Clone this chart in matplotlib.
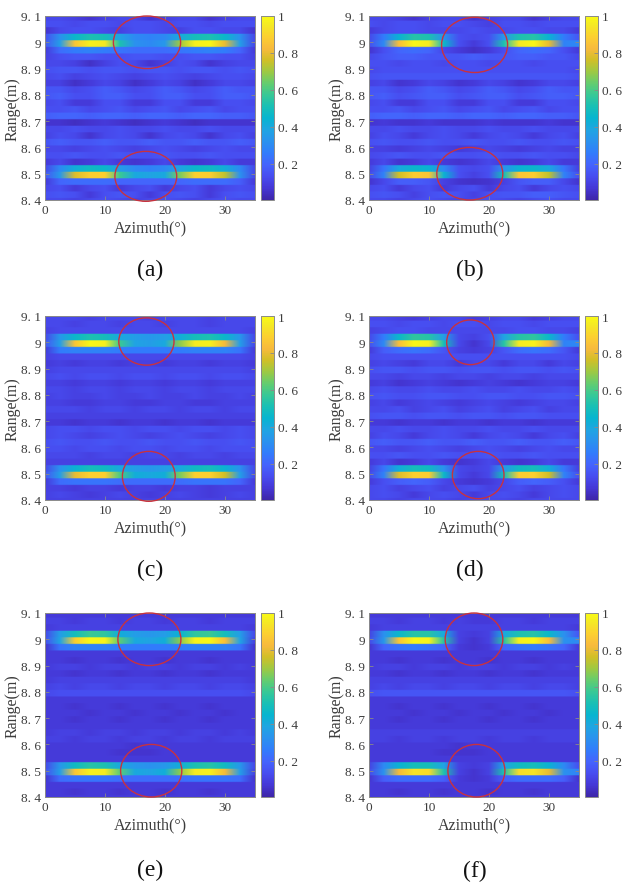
import numpy as np
import matplotlib
matplotlib.use("Agg")
import matplotlib.pyplot as plt
from matplotlib.colors import LinearSegmentedColormap
from matplotlib.patches import Ellipse

plt.rcParams['font.family'] = ['Liberation Serif', 'DejaVu Serif']

# ---------------- data ----------------
azimuth_deg = [0, 2.5, 5, 7.5, 10, 12.5, 15, 17.5, 20, 22.5, 25, 27.5, 30, 32.5, 35]
# range-bin centres, top to bottom (m)
range_m = [9.095, 9.070, 9.045, 9.020, 8.995, 8.970, 8.945, 8.920, 8.895, 8.870,
           8.845, 8.820, 8.795, 8.770, 8.745, 8.720, 8.695, 8.670, 8.645, 8.620,
           8.595, 8.570, 8.545, 8.520, 8.495, 8.470, 8.445, 8.420, 8.395]
range_bin = 0.025
azimuth_step = 2.5

# normalised amplitude (percent), one string per range bin (top -> bottom)
img_a = [
    "12 12 10 06 10 12 12 06 10 12 12 06 10 12 12",
    "14 14 12 14 14 12 14 14 12 14 14 12 14 14 14",
    "06 12 14 14 12 10 14 14 12 10 14 14 12 12 06",
    "14 32 46 52 50 38 30 28 30 40 50 52 46 32 12",
    "16 36 86 97 95 52 32 30 34 70 97 99 80 36 12",
    "08 22 26 28 26 24 22 22 22 24 26 28 26 20 08",
    "10 14 16 16 14 14 16 16 14 14 16 16 14 14 10",
    "12 12 10 05 10 14 12 06 10 14 12 06 10 12 12",
    "14 16 16 14 16 16 14 16 16 14 16 16 14 16 14",
    "12 14 10 12 14 12 10 12 14 12 10 12 14 14 12",
    "10 10 05 08 12 10 05 08 12 10 05 08 12 12 10",
    "16 16 12 14 18 16 12 14 18 16 12 14 18 16 16",
    "16 18 14 14 18 18 14 14 18 18 14 14 18 18 16",
    "12 14 08 08 14 14 08 08 14 14 08 08 14 14 12",
    "14 14 16 12 14 16 12 14 16 12 14 16 12 14 14",
    "18 20 20 18 20 20 18 20 20 18 20 20 18 18 16",
    "06 06 04 06 08 06 04 06 08 06 04 06 06 06 06",
    "12 12 14 12 12 14 12 12 14 12 12 14 12 12 12",
    "10 14 12 06 12 14 12 06 12 14 12 06 12 14 10",
    "16 18 16 16 18 16 16 18 16 16 18 16 16 18 16",
    "12 12 10 12 14 12 10 12 14 12 10 12 14 12 12",
    "14 14 16 14 14 16 14 14 16 14 14 16 14 14 14",
    "08 12 06 08 12 08 06 08 12 08 06 08 12 08 08",
    "12 30 42 48 46 36 30 28 30 38 46 48 42 30 12",
    "16 34 78 88 89 58 40 38 40 66 89 88 74 32 12",
    "08 20 22 22 22 20 20 20 20 20 22 22 22 18 08",
    "12 14 08 12 14 08 12 14 08 12 14 08 12 14 12",
    "14 16 14 08 14 16 14 08 14 16 14 08 14 16 14",
    "12 12 10 12 14 12 10 12 14 12 10 12 14 12 12",
]
img_b = [
    "12 12 10 06 10 12 12 06 10 12 12 06 10 12 12",
    "14 12 14 14 12 14 14 12 10 14 14 12 14 14 14",
    "08 12 14 14 12 12 12 14 12 12 14 14 12 12 08",
    "12 26 44 54 52 32 14 12 14 34 52 54 44 26 16",
    "14 30 84 99 96 46 14 08 14 52 95 99 80 28 30",
    "06 14 20 22 20 12 08 05 08 14 20 22 20 14 08",
    "12 16 18 18 16 16 16 18 16 16 18 18 16 16 12",
    "14 14 12 14 14 12 14 14 12 14 14 12 14 14 14",
    "12 14 14 14 14 14 14 14 14 14 14 14 14 14 12",
    "14 16 16 16 16 16 16 16 16 16 16 16 16 16 14",
    "10 12 06 08 12 10 06 08 12 10 06 08 12 12 10",
    "16 16 12 14 18 16 12 14 18 16 12 14 18 16 16",
    "16 18 14 16 18 18 14 16 18 18 14 16 18 18 16",
    "12 14 08 08 14 14 08 08 14 14 08 08 14 14 12",
    "14 14 16 12 14 16 12 14 16 12 14 16 12 14 14",
    "18 20 20 18 20 20 18 20 20 18 20 20 18 18 16",
    "06 08 06 06 08 06 06 06 08 06 06 06 08 06 06",
    "12 12 14 12 12 14 12 12 14 12 12 14 12 12 12",
    "10 14 12 08 12 14 12 08 12 14 12 08 12 14 10",
    "14 16 14 14 16 14 14 16 14 14 16 14 14 16 14",
    "10 10 08 10 12 10 08 10 12 10 08 10 12 10 10",
    "12 14 16 14 14 16 14 14 16 14 14 16 14 14 12",
    "08 12 06 08 12 08 06 08 12 08 06 08 12 08 08",
    "10 24 40 46 44 30 14 12 14 32 44 46 40 24 10",
    "12 28 76 88 86 44 14 10 14 50 86 88 74 28 14",
    "06 12 18 18 16 10 06 05 06 10 16 18 18 12 06",
    "12 14 08 12 14 08 12 14 08 12 14 08 12 14 12",
    "14 16 14 10 14 16 14 10 14 16 16 18 18 16 14",
    "12 12 10 12 14 12 10 12 14 12 10 12 14 12 12",
]
img_c = [
    "12 12 12 10 12 12 12 10 12 12 12 10 12 12 12",
    "12 12 10 12 12 10 12 12 10 12 12 10 12 12 12",
    "10 12 12 12 12 12 12 12 12 12 12 12 12 12 10",
    "12 34 46 52 50 40 36 34 36 42 50 52 46 34 12",
    "16 36 86 99 97 58 38 36 40 68 96 97 82 36 12",
    "08 26 28 28 28 26 26 26 26 26 28 28 28 24 08",
    "10 12 12 12 12 12 12 12 12 12 12 12 12 12 10",
    "08 10 08 10 10 08 10 10 08 10 10 08 10 10 08",
    "10 12 12 12 12 12 12 12 12 12 12 12 12 12 10",
    "12 14 12 14 14 12 14 14 12 14 14 12 14 14 12",
    "10 10 08 10 10 08 10 10 08 10 10 08 10 10 10",
    "12 12 10 12 12 10 12 12 10 12 12 10 12 12 12",
    "10 12 10 10 12 10 10 12 10 10 12 10 10 12 10",
    "10 10 08 08 10 10 08 08 10 10 08 08 10 10 10",
    "12 12 12 10 12 12 10 12 12 10 12 12 10 12 12",
    "10 10 10 10 10 10 10 10 10 10 10 10 10 10 10",
    "08 08 06 08 08 06 08 08 06 08 08 06 08 08 08",
    "12 14 14 12 14 14 12 14 14 12 14 14 12 14 12",
    "12 14 12 10 12 14 12 10 12 14 12 10 12 14 12",
    "14 16 14 14 16 14 14 16 14 14 16 14 14 16 14",
    "14 14 12 14 14 12 14 14 12 14 14 12 14 14 14",
    "12 12 12 10 12 12 10 12 12 10 12 12 10 12 12",
    "10 10 10 10 10 10 10 10 10 10 10 10 10 10 10",
    "12 32 44 50 48 40 36 34 36 40 48 50 44 32 12",
    "16 36 80 89 89 60 42 40 42 66 89 89 76 36 12",
    "08 22 24 24 24 22 22 22 22 22 24 24 24 20 08",
    "10 10 08 10 10 08 10 10 08 10 10 08 10 10 10",
    "10 12 10 08 10 12 10 08 10 12 10 08 10 12 10",
    "10 10 10 10 10 10 10 10 10 10 10 10 10 10 10",
]
img_d = [
    "12 12 10 08 10 12 12 08 10 12 12 08 10 12 12",
    "14 14 12 14 14 12 14 14 12 14 14 12 14 14 14",
    "10 12 14 14 12 12 12 12 12 12 14 14 12 12 10",
    "12 26 46 56 54 36 12 10 14 38 54 56 46 26 14",
    "14 30 84 99 97 50 12 06 12 54 96 98 82 28 30",
    "08 18 22 24 22 16 10 08 10 16 22 24 22 16 08",
    "12 14 14 14 14 14 14 14 14 14 14 14 14 14 12",
    "10 12 10 08 12 12 08 12 12 08 12 12 08 12 10",
    "14 16 16 14 16 16 14 16 16 14 16 16 14 16 14",
    "12 12 10 12 12 10 12 12 10 12 12 10 12 12 12",
    "08 10 06 08 10 08 06 08 10 08 06 08 10 10 08",
    "12 14 12 12 14 12 12 14 12 12 14 12 12 14 12",
    "14 16 14 14 16 16 14 14 16 16 14 14 16 16 14",
    "10 12 08 10 12 10 08 10 12 10 08 10 12 12 10",
    "12 12 14 10 12 14 10 12 14 10 12 14 10 12 12",
    "14 16 16 14 16 16 14 16 16 14 16 16 14 14 14",
    "08 08 06 08 08 06 08 08 06 08 08 06 08 08 08",
    "12 12 14 12 12 14 12 12 14 12 12 14 12 12 12",
    "10 14 12 08 12 14 12 08 12 14 12 08 12 14 10",
    "16 18 16 16 18 16 16 18 16 16 18 16 16 18 16",
    "12 12 10 12 14 12 10 12 14 12 10 12 14 12 12",
    "14 14 16 14 14 16 14 14 16 14 14 16 14 14 14",
    "08 12 06 08 12 08 06 08 12 08 06 08 12 08 08",
    "10 24 42 50 48 32 12 10 12 34 48 50 42 24 10",
    "12 28 78 89 88 46 12 08 12 50 88 89 76 28 14",
    "08 14 18 20 18 12 08 06 08 12 18 20 18 14 08",
    "12 14 10 12 14 10 12 14 10 12 14 10 12 14 12",
    "12 14 12 08 12 14 12 08 12 14 12 08 12 14 12",
    "12 12 10 12 12 12 10 12 12 12 10 12 12 12 12",
]
img_e = [
    "08 08 08 08 08 08 08 08 08 08 08 08 08 08 08",
    "10 10 08 10 10 08 10 10 08 10 10 08 10 10 10",
    "08 10 10 10 10 10 10 10 10 10 10 10 10 10 08",
    "12 36 50 58 56 42 36 34 36 44 56 58 50 36 12",
    "14 38 88 99 98 62 40 38 42 68 98 99 84 38 10",
    "06 24 28 28 28 26 26 26 26 26 28 28 28 24 06",
    "08 08 08 08 08 08 08 08 08 08 08 08 08 08 08",
    "08 08 06 08 08 06 08 08 06 08 08 06 08 08 08",
    "08 10 10 08 10 10 08 10 10 08 10 10 08 10 08",
    "08 08 06 08 08 06 08 08 06 08 08 06 08 08 08",
    "08 10 10 10 10 10 10 10 10 10 10 10 10 10 08",
    "10 12 10 12 12 10 12 12 10 12 12 10 12 12 10",
    "12 14 14 14 14 14 14 14 14 14 14 14 14 14 12",
    "08 08 08 08 08 08 08 08 08 08 08 08 08 08 08",
    "08 08 06 08 08 06 08 08 06 08 08 06 08 08 08",
    "08 08 08 06 08 08 06 08 08 06 08 08 06 08 08",
    "08 08 06 08 08 06 08 08 06 08 08 06 08 08 08",
    "08 08 08 08 08 08 08 08 08 08 08 08 08 08 08",
    "08 10 10 08 10 10 08 10 10 08 10 10 08 10 08",
    "10 10 08 10 10 08 10 10 08 10 10 08 10 10 10",
    "08 08 08 08 08 08 06 08 08 08 08 08 08 08 08",
    "08 08 08 08 08 06 06 06 08 08 08 08 08 08 08",
    "08 08 08 08 08 08 08 08 08 08 08 08 08 08 08",
    "12 34 48 54 52 40 34 32 34 42 52 54 48 34 12",
    "14 36 86 97 96 62 40 38 42 68 96 97 82 36 10",
    "06 22 24 24 24 22 22 22 22 22 24 24 24 22 06",
    "08 08 08 08 08 08 08 08 08 08 08 08 08 08 08",
    "08 08 06 08 08 06 08 08 06 08 08 06 08 08 08",
    "08 08 08 08 08 08 08 08 08 08 08 08 08 08 08",
]
img_f = [
    "08 08 08 08 08 08 08 08 08 08 08 08 08 08 08",
    "10 10 08 10 10 08 10 08 08 10 10 08 10 10 10",
    "08 10 10 10 10 10 10 10 10 10 10 10 10 10 08",
    "10 32 46 54 54 40 10 08 10 40 52 54 46 32 16",
    "12 34 86 99 98 54 10 06 10 54 97 99 84 32 30",
    "06 20 24 26 24 20 08 06 08 20 24 26 24 20 08",
    "08 08 08 08 08 08 08 08 08 08 08 08 08 08 08",
    "08 08 06 08 08 06 08 08 06 08 08 06 08 08 08",
    "08 10 10 08 10 10 08 10 10 08 10 10 08 10 08",
    "08 08 06 08 08 06 08 08 06 08 08 06 08 08 08",
    "10 10 10 10 10 10 10 10 10 10 10 10 10 10 10",
    "10 12 10 12 12 10 12 12 10 12 12 10 12 12 10",
    "14 16 16 16 16 16 16 16 16 16 16 16 16 16 14",
    "08 08 08 08 08 08 08 08 08 08 08 08 08 08 08",
    "08 08 06 08 08 06 08 08 06 08 08 06 08 08 08",
    "08 08 08 06 08 08 06 08 08 06 08 08 06 08 08",
    "08 08 06 08 08 06 08 08 06 08 08 06 08 08 08",
    "08 08 08 08 08 08 08 08 08 08 08 08 08 08 08",
    "10 10 10 10 10 10 10 10 10 10 10 10 10 10 10",
    "10 10 08 10 10 08 10 10 08 10 10 08 10 10 10",
    "08 08 08 08 08 08 06 08 08 08 08 08 08 08 08",
    "08 08 08 08 08 06 06 06 08 08 08 08 08 08 08",
    "08 08 08 08 08 08 08 08 08 08 08 08 08 08 08",
    "10 30 44 50 50 38 10 08 10 38 48 50 44 30 14",
    "12 32 82 94 92 52 10 06 10 52 92 94 80 32 28",
    "06 18 22 22 22 18 08 06 08 18 22 22 22 18 06",
    "08 08 08 08 08 08 08 08 08 08 08 08 08 08 08",
    "08 08 06 08 08 06 08 08 06 08 08 06 08 08 08",
    "08 08 08 08 08 08 08 08 08 08 08 08 08 08 08",
]

panel_letters = ["(a)", "(b)", "(c)", "(d)", "(e)", "(f)"]
panel_images = [img_a, img_b, img_c, img_d, img_e, img_f]
# red marker ellipses per panel: (azimuth centre, range centre, width deg, height m)
ellipses = [
    [(17.0, 9.000, 11.2, 0.20), (16.8, 8.490, 10.3, 0.19)],
    [(17.6, 8.990, 11.0, 0.21), (16.8, 8.500, 11.0, 0.20)],
    [(16.9, 9.003, 9.2, 0.18), (17.3, 8.490, 8.8, 0.19)],
    [(16.9, 9.000, 7.9, 0.17), (18.2, 8.495, 8.6, 0.18)],
    [(17.4, 9.000, 10.5, 0.20), (17.7, 8.500, 10.2, 0.20)],
    [(17.5, 9.000, 9.6, 0.20), (17.9, 8.500, 9.5, 0.20)],
]
x_ticks = [0, 10, 20, 30]
y_ticks = [8.4, 8.5, 8.6, 8.7, 8.8, 8.9, 9.0, 9.1]
y_tick_labels = ["8. 4", "8. 5", "8. 6", "8. 7", "8. 8", "8. 9", "9", "9. 1"]
cb_ticks = [0.2, 0.4, 0.6, 0.8, 1.0]
cb_tick_labels = ["0. 2", "0. 4", "0. 6", "0. 8", "1"]

# ---------------- style ----------------
parula_anchor = [
    (0.2422, 0.1504, 0.6603), (0.2706, 0.2147, 0.8364), (0.2813, 0.3006, 0.9414),
    (0.2699, 0.3892, 0.9906), (0.1963, 0.4847, 0.9892), (0.1687, 0.5703, 0.9359),
    (0.1248, 0.6459, 0.8883), (0.0297, 0.7082, 0.8163), (0.0964, 0.7500, 0.7120),
    (0.2161, 0.7843, 0.5923), (0.3909, 0.8029, 0.4354), (0.6174, 0.7876, 0.2612),
    (0.8203, 0.7498, 0.1535), (0.9728, 0.7298, 0.2394), (0.9892, 0.8136, 0.1885),
    (0.9597, 0.9135, 0.1423), (0.9769, 0.9839, 0.0805)]
anchor_pos = [0, 4, 8, 12, 16, 20, 24, 28, 32, 36, 40, 44, 48, 52, 56, 60, 63]
parula = LinearSegmentedColormap.from_list(
    "parula", [(p / 63.0, c) for p, c in zip(anchor_pos, parula_anchor)])

W, H = 627.0, 887.0
ax_px = [(45, 17), (369, 17), (45, 317), (369, 317), (45, 614), (369, 614)]
ax_w, ax_h = 210, 184
cb_px = [261, 585, 261, 585, 261, 585]
cb_w = 13
lab_px = [(150, 270), (470, 270), (150, 570), (470, 570), (150, 870), (475, 871)]
row_repeat = 12          # display-only: keeps range bins flat while azimuth is smoothed
txt_col = '#3c3c3c'
edge_col = '#8a8a8a'

fig = plt.figure(figsize=(W / 100, H / 100), dpi=100)

az = np.array(azimuth_deg, float)
rg = np.array(range_m, float)
extent = [az[0] - azimuth_step / 2, az[-1] + azimuth_step / 2,
          rg[-1] - range_bin / 2, rg[0] + range_bin / 2]

for i, rows in enumerate(panel_images):
    vals = np.array([[int(v) for v in r.split()] for r in rows], float) / 100.0
    disp = np.repeat(vals, row_repeat, axis=0)

    x0, y0 = ax_px[i]
    ax = fig.add_axes([x0 / W, 1 - (y0 + ax_h) / H, ax_w / W, ax_h / H])
    im = ax.imshow(disp, extent=extent, origin='upper', aspect='auto',
                   interpolation='bilinear', cmap=parula, vmin=0.005, vmax=1.0)
    ax.set_xlim(0, 35)
    ax.set_ylim(8.4, 9.1)
    ax.set_xticks(x_ticks)
    ax.set_xticklabels([str(t) for t in x_ticks])
    ax.set_yticks(y_ticks)
    ax.set_yticklabels(y_tick_labels)
    ax.tick_params(direction='in', length=3, width=0.6, color=edge_col,
                   labelsize=9.5, labelcolor=txt_col, top=True, right=True, pad=3)
    for s in ax.spines.values():
        s.set_color(edge_col)
        s.set_linewidth(0.7)
    ax.set_xlabel("Azimuth(°)", fontsize=11.5, color=txt_col, labelpad=2)
    ax.set_ylabel("Range(m)", fontsize=11.5, color=txt_col, labelpad=0)

    for (cx, cy, ew, eh) in ellipses[i]:
        ax.add_patch(Ellipse((cx, cy), ew, eh, fill=False, edgecolor='#c8323f',
                             linewidth=1.0, clip_on=False, zorder=5))

    cax = fig.add_axes([cb_px[i] / W, 1 - (y0 + ax_h) / H, cb_w / W, ax_h / H])
    cb = fig.colorbar(im, cax=cax)
    cb.set_ticks(cb_ticks)
    cb.set_ticklabels(cb_tick_labels)
    cax.tick_params(direction='in', length=3, width=0.6, color=edge_col,
                    labelsize=9.5, labelcolor=txt_col, pad=3)
    cb.outline.set_edgecolor(edge_col)
    cb.outline.set_linewidth(0.7)

    lx, ly = lab_px[i]
    fig.text(lx / W, 1 - ly / H, panel_letters[i], ha='center', va='center',
             fontsize=17, color='#111111')

fig.savefig("out.png", dpi=100)
